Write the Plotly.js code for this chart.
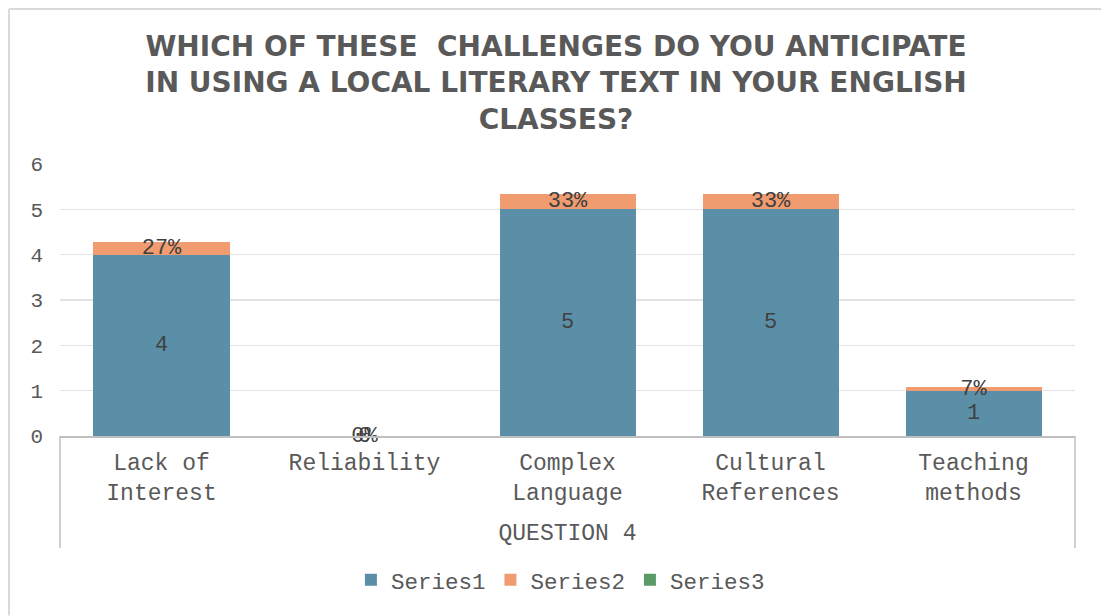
<!DOCTYPE html>
<html>
<head>
<meta charset="utf-8">
<script src="https://cdn.plot.ly/plotly-3.0.1.min.js"></script>
<style>html,body{margin:0;padding:0;background:#fff;overflow:hidden;}#chart{width:1101px;height:616px;}</style>
</head>
<body>
<div id="chart"></div>
<script>
const categories = ["Lack of<br>Interest", "Reliability", "Complex<br>Language", "Cultural<br>References", "Teaching<br>methods"];
const series1 = [4, 0, 5, 5, 1];
const series2 = [0.27, 0, 0.33, 0.33, 0.07];
const series3 = [0, 0, 0, 0, 0];
const seriesNames = ["Series1", "Series2", "Series3"];
const colors = ["#5B8FA8", "#F09C70", "#5A9A66"];
const titleText = "WHICH OF THESE  CHALLENGES DO YOU ANTICIPATE<br>IN USING A LOCAL LITERARY TEXT IN YOUR ENGLISH<br>CLASSES?";
const axisTitle = "QUESTION 4";

const mono = "Liberation Mono, Courier New, monospace";
const grey = "#595959";
const labelColor = "#404040";

const traces = [series1, series2, series3].map((vals, i) => ({
  type: "bar",
  name: seriesNames[i],
  x: categories,
  y: vals,
  marker: {color: colors[i]},
  width: 0.67,
  hoverinfo: "skip"
}));

// data labels: centered in each segment
const base2 = series1;
traces.push({
  type: "scatter", mode: "text", showlegend: false, hoverinfo: "skip",
  x: categories,
  y: series1.map(v => v / 2),
  text: series1.map(v => String(v)),
  textposition: "middle center",
  textfont: {family: mono, size: 22, color: labelColor},
  cliponaxis: false
});
traces.push({
  type: "scatter", mode: "text", showlegend: false, hoverinfo: "skip",
  x: categories,
  y: series2.map((v, i) => base2[i] + v / 2),
  text: series2.map(v => Math.round(v * 100) + "%"),
  textposition: "middle center",
  textfont: {family: mono, size: 22, color: labelColor},
  cliponaxis: false
});

const layout = {
  width: 1101, height: 616,
  margin: {l: 60, r: 26, t: 164, b: 180},
  paper_bgcolor: "#fff", plot_bgcolor: "#fff",
  barmode: "stack",
  bargap: 0.33,
  title: {
    text: titleText,
    font: {family: "DejaVu Sans, Liberation Sans, sans-serif", size: 28, color: grey, weight: "bold"},
    x: 0.505, xanchor: "center",
    y: 0.909, yanchor: "top", yref: "container"
  },
  xaxis: {
    type: "category",
    showline: true, linecolor: "#BFBFBF", linewidth: 1.5,
    showgrid: false, ticks: "",
    ticklabelstandoff: 5,
    tickfont: {family: mono, size: 23, color: grey},
    title: {text: axisTitle, standoff: 18, font: {family: mono, size: 23, color: grey}},
    automargin: false,
    fixedrange: true
  },
  yaxis: {
    range: [0, 6], dtick: 1,
    showgrid: true, gridcolor: "#E3E3E3", gridwidth: 1.5,
    zeroline: false, showline: false, ticks: "",
    ticklabelstandoff: 16,
    tickfont: {family: mono, size: 21, color: grey},
    automargin: false,
    fixedrange: true
  },
  legend: {
    orientation: "h", x: 0.493, xanchor: "center",
    y: -0.53, yanchor: "middle",
    font: {family: mono, size: 22.5, color: grey},
    itemwidth: 30, traceorder: "normal"
  },
  shapes: [
    {type: "line", xref: "paper", yref: "paper", x0: -0.0502, x1: 1.0256, y0: 1.5699, y1: 1.5699,
     line: {color: "#D9D9D9", width: 2}, layer: "below"},
    {type: "line", xref: "paper", yref: "paper", x0: -0.0502, x1: -0.0502, y0: -0.66, y1: 1.5699,
     line: {color: "#D9D9D9", width: 2}, layer: "below"},
    {type: "line", xref: "paper", yref: "paper", x0: 0, x1: 0, y0: 0, y1: -0.412,
     line: {color: "#BFBFBF", width: 1.5}},
    {type: "line", xref: "paper", yref: "paper", x0: 1, x1: 1, y0: 0, y1: -0.412,
     line: {color: "#BFBFBF", width: 1.5}}
  ],
  showlegend: true
};

Plotly.newPlot("chart", traces, layout, {displayModeBar: false, staticPlot: true});
</script>
</body>
</html>
